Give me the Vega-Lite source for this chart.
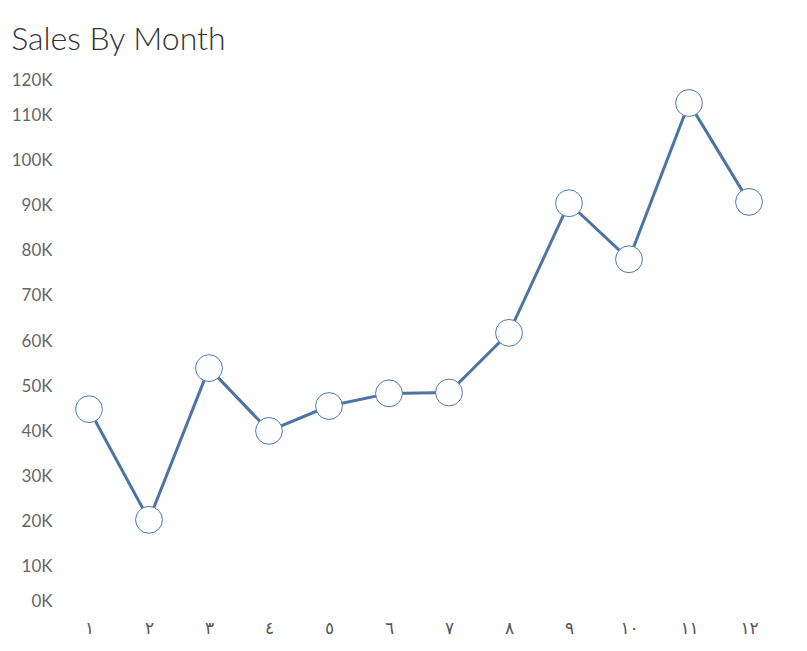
{
  "$schema": "https://vega.github.io/schema/vega-lite/v6.json",
  "width": 720,
  "height": 542,
  "autosize": {"type": "none"},
  "padding": {"left": 59, "top": 70, "right": 28, "bottom": 39},
  "background": "white",
  "title": {
    "text": "Sales By Month",
    "anchor": "start",
    "frame": "bounds",
    "font": "Lato",
    "fontSize": 32,
    "fontWeight": 300,
    "color": "#333333",
    "offset": 13
  },
  "config": {"view": {"stroke": null}},
  "data": {
    "values": [
      {"month": 1, "label": "١", "sales": 44900},
      {"month": 2, "label": "٢", "sales": 20400},
      {"month": 3, "label": "٣", "sales": 54000},
      {"month": 4, "label": "٤", "sales": 40100},
      {"month": 5, "label": "٥", "sales": 45600},
      {"month": 6, "label": "٦", "sales": 48400},
      {"month": 7, "label": "٧", "sales": 48600},
      {"month": 8, "label": "٨", "sales": 61800},
      {"month": 9, "label": "٩", "sales": 90500},
      {"month": 10, "label": "١٠", "sales": 78100},
      {"month": 11, "label": "١١", "sales": 112700},
      {"month": 12, "label": "١٢", "sales": 90800}
    ]
  },
  "encoding": {
    "x": {
      "field": "label",
      "type": "ordinal",
      "sort": {"field": "month"},
      "scale": {"type": "point", "padding": 0.5},
      "axis": {
        "title": null,
        "domain": false,
        "ticks": false,
        "grid": false,
        "labelAngle": 0,
        "labelFont": "DejaVu Sans",
        "labelFontSize": 17,
        "labelColor": "#555555",
        "labelPadding": 8
      }
    },
    "y": {
      "field": "sales",
      "type": "quantitative",
      "scale": {"domain": [0, 120000], "nice": false, "zero": true},
      "axis": {
        "title": null,
        "domain": false,
        "ticks": false,
        "grid": false,
        "values": [0, 10000, 20000, 30000, 40000, 50000, 60000, 70000, 80000, 90000, 100000, 110000, 120000],
        "labelExpr": "(datum.value/1000) + 'K'",
        "labelFont": "Lato",
        "labelFontSize": 17,
        "labelColor": "#666666",
        "labelPadding": 7,
        "labelFlush": true,
        "labelFlushOffset": -2
      }
    }
  },
  "layer": [
    {
      "mark": {"type": "line", "color": "#4e73a5", "strokeWidth": 3}
    },
    {
      "mark": {"type": "point", "shape": "circle", "filled": true, "fill": "white", "stroke": "#4e79b4", "strokeWidth": 1, "size": 720, "opacity": 1}
    }
  ]
}
